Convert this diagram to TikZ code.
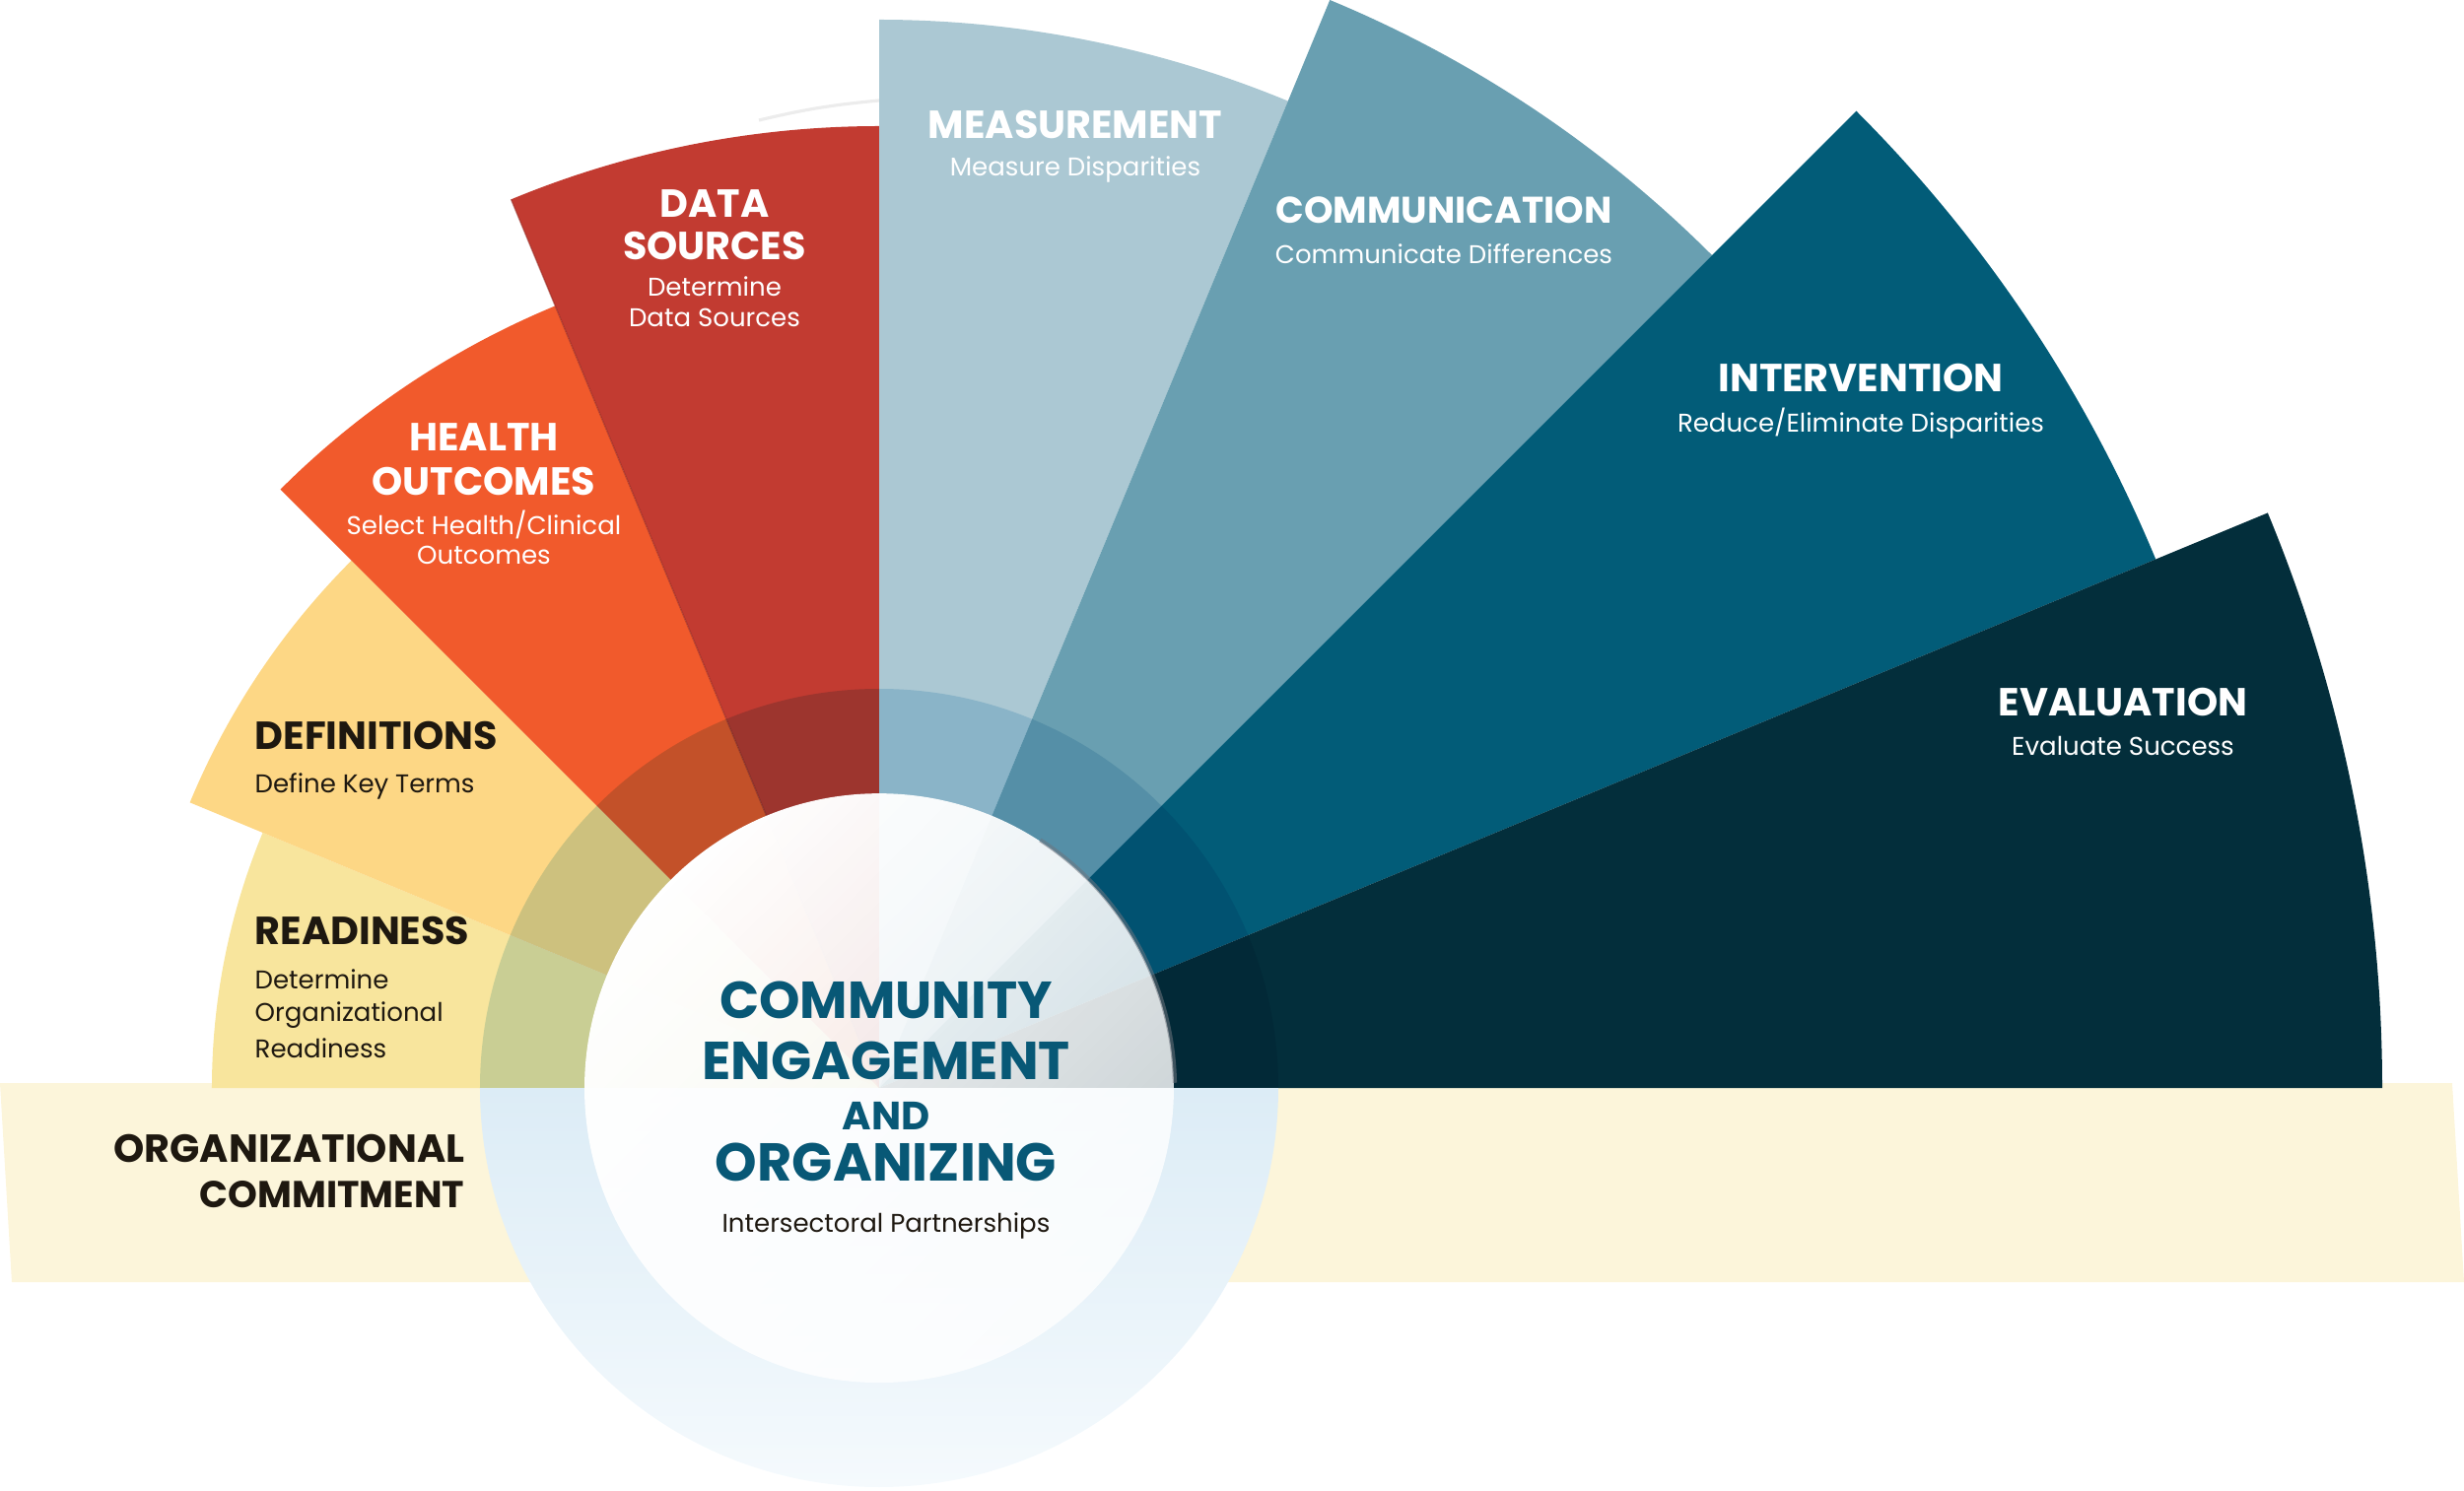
\documentclass[tikz,border=0pt]{standalone}
\usepackage{fontspec}
\setmainfont{Poppins}
\newfontfamily\headfont{Poppins}
\usepackage{tikz}
\usetikzlibrary{positioning,fadings}

\definecolor{readiness}{RGB}{248,229,157}
\definecolor{definitions}{RGB}{253,215,133}
\definecolor{healthout}{RGB}{241,90,44}
\definecolor{datasrc}{RGB}{194,59,49}
\definecolor{measure}{RGB}{171,200,211}
\definecolor{communic}{RGB}{105,159,177}
\definecolor{interven}{RGB}{2,92,120}
\definecolor{evaluat}{RGB}{3,46,59}
\definecolor{bandcream}{RGB}{252,245,218}
\definecolor{ringtint}{RGB}{207,230,242}
\definecolor{ringtop}{RGB}{220,236,246}
\definecolor{ringbot}{RGB}{245,250,253}
\definecolor{hubblue}{RGB}{8,88,118}
\definecolor{darkink}{RGB}{30,24,16}
\definecolor{ghostgray}{RGB}{236,236,236}
\definecolor{hubshadow}{RGB}{110,116,126}

\tikzfading[name=hubfade, top color=transparent!0, bottom color=transparent!22]

\begin{document}
\begin{tikzpicture}[x=0.01cm, y=0.01cm,
    wedgetitle/.style={font=\headfont\bfseries\fontsize{11.3}{13}\selectfont, inner sep=0pt},
    wedgesub/.style={font=\headfont\fontsize{7.4}{8.5}\selectfont, inner sep=0pt},
    lightlbl/.style={text=white, anchor=base},
    darklbl/.style={text=darkink, anchor=base west},
    hubtitle/.style={font=\headfont\bfseries\fontsize{15.4}{17}\selectfont, text=hubblue, anchor=base, inner sep=0pt}]
  \useasboundingbox (-892,-408) rectangle (1608,1104);

  % commitment band and ghost arc
  \fill[bandcream] (-892,5) -- (1596,5) -- (1608,-197) -- (-880,-197) -- cycle;
  \coordinate (ghostR) at (0,1002);
  \coordinate (ghostL) at (-122,982);
  \draw[ghostgray, line width=0.9pt] (ghostR) to[bend right=4] (ghostL);

  % fan of wedges
  \foreach \a/\r/\c in {157.5/677/readiness, 135/757/definitions, 112.5/859/healthout,
      90/976/datasrc, 67.5/1084/measure, 45/1195/communic, 22.5/1402/interven, 0/1525/evaluat}
    \fill[\c] (0,0) -- (\a:\r) arc[start angle=\a, delta angle=22.5, radius=\r] -- cycle;
  \draw[datasrc!75!black, line width=0.4pt, opacity=0.5] (0,0) -- (112.5:976);

  % ring and hub
  \fill[ringtint, blend mode=multiply] (405,0) arc[start angle=0, end angle=180, radius=405] -- cycle;
  \shade[top color=ringtop, bottom color=ringbot] (405,0) arc[start angle=0, end angle=-180, radius=405] -- cycle;
  \fill[white, path fading=hubfade, fading angle=45] (0,0) circle[radius=299];
  \draw[hubshadow, line width=1.2pt, opacity=0.55] (1:300) arc[start angle=1, end angle=57, radius=300];

  % wedge labels, light
  \node[wedgetitle, lightlbl] (measT) at (199,963) {MEASUREMENT};
  \node[wedgesub, lightlbl] (measS) at (199,925) {Measure Disparities};
  \node[wedgetitle, lightlbl, font=\headfont\bfseries\fontsize{10.7}{13}\selectfont] (commT) at (573,877) {COMMUNICATION};
  \node[wedgesub, lightlbl] (commS) at (573,836) {Communicate Differences};
  \node[wedgetitle, lightlbl] (intvT) at (996,706) {INTERVENTION};
  \node[wedgesub, lightlbl] (intvS) at (996,665) {Reduce/Eliminate Disparities};
  \node[wedgetitle, lightlbl] (evalT) at (1262,377) {EVALUATION};
  \node[wedgesub, lightlbl] (evalS) at (1262,337) {Evaluate Success};
  \node[wedgetitle, lightlbl] (dataT1) at (-167,883) {DATA};
  \node[wedgetitle, lightlbl] (dataT2) at (-167,840) {SOURCES};
  \node[wedgesub, lightlbl] (dataS1) at (-167,803) {Determine};
  \node[wedgesub, lightlbl] (dataS2) at (-167,772) {Data Sources};
  \node[wedgetitle, lightlbl] (hlthT1) at (-401,646) {HEALTH};
  \node[wedgetitle, lightlbl] (hlthT2) at (-401,601) {OUTCOMES};
  \node[wedgesub, lightlbl] (hlthS1) at (-401,561) {Select Health/Clinical};
  \node[wedgesub, lightlbl] (hlthS2) at (-401,531) {Outcomes};

  % wedge labels, dark
  \node[wedgetitle, darklbl] (defT) at (-634,343) {DEFINITIONS};
  \node[wedgesub, darklbl] (defS) at (-634,299) {Define Key Terms};
  \node[wedgetitle, darklbl] (rdyT) at (-634,146) {READINESS};
  \node[wedgesub, darklbl] (rdyS1) at (-634,101) {Determine};
  \node[wedgesub, darklbl] (rdyS2) at (-634,68) {Organizational};
  \node[wedgesub, darklbl] (rdyS3) at (-634,31) {Readiness};
  \node[wedgetitle, darklbl, anchor=base east] (orgT1) at (-420,-75) {ORGANIZATIONAL};
  \node[wedgetitle, darklbl, anchor=base east, font=\headfont\bfseries\fontsize{10.8}{13}\selectfont] (orgT2) at (-420,-121) {COMMITMENT};

  % hub labels
  \node[hubtitle, font=\headfont\bfseries\fontsize{15}{17}\selectfont] (hubT1) at (7,71) {COMMUNITY};
  \node[hubtitle] (hubT2) at (7,9) {ENGAGEMENT};
  \node[hubtitle, font=\headfont\bfseries\fontsize{11.4}{13}\selectfont] (hubT3) at (7,-42) {AND};
  \node[hubtitle] (hubT4) at (7,-94) {ORGANIZING};
  \node[wedgesub, text=darkink, anchor=base] (hubS) at (7,-146) {Intersectoral Partnerships};
\end{tikzpicture}
\end{document}
